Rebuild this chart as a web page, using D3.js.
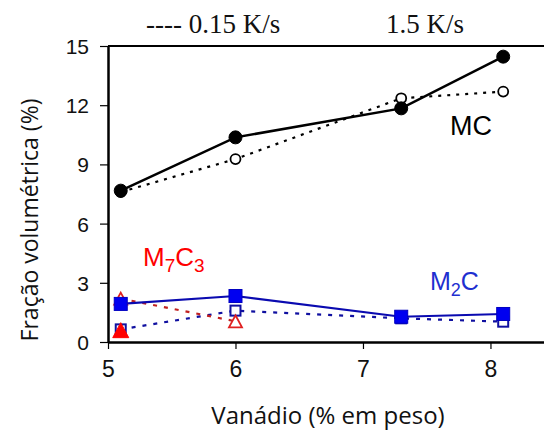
<!DOCTYPE html>
<html>
<head>
<meta charset="utf-8">
<script src="https://cdn.jsdelivr.net/npm/d3@7"></script>
<style>
  html, body { margin: 0; padding: 0; background: #fff; }
  svg { display: block; }
</style>
</head>
<body>
<svg id="chart" width="544" height="432"></svg>
<script>
// ---- data ----
const vanadio = [5.1, 6.0, 7.3, 8.1];
const mcFast = [7.67, 10.37, 11.84, 14.46];      // 1.5 K/s, solid, filled circles
const mcSlow = [7.6, 9.27, 12.35, 12.69];        // 0.15 K/s, dotted, open circles
const m2cFast = [1.93, 2.33, 1.28, 1.42];        // solid, filled squares
const m2cSlow = [0.64, 1.59, 1.2, 1.03];         // dotted, open squares
const m7c3X = [5.1, 6.0];
const m7c3Fast = [0.6];                          // filled triangle
const m7c3Slow = [2.2, 1.05];                    // dotted, open triangles
const xTicks = [5, 6, 7, 8];
const yTicks = [0, 3, 6, 9, 12, 15];

const svg = d3.select("#chart");
const x = d3.scaleLinear().domain([5, 8.42]).range([108, 544]);
const y = d3.scaleLinear().domain([0, 15]).range([342, 46]);

// frame top line
svg.append("line").attr("x1", x(5)).attr("x2", 544).attr("y1", y(15)).attr("y2", y(15))
  .attr("stroke", "#000").attr("stroke-width", 2);

const xAxis = svg.append("g").attr("transform", `translate(0,${y(0)})`)
  .call(d3.axisBottom(x).tickValues(xTicks).tickFormat(d3.format("d")).tickSize(7).tickSizeOuter(0).tickPadding(12));
const yAxis = svg.append("g").attr("transform", `translate(${x(5)},0)`)
  .call(d3.axisLeft(y).tickValues(yTicks).tickSize(8).tickSizeOuter(0).tickPadding(11));
[xAxis, yAxis].forEach(g => {
  g.select(".domain").attr("stroke", "#000").attr("stroke-width", 2.5);
  g.selectAll(".tick line").attr("stroke", "#000").attr("stroke-width", 1.2);
  g.selectAll(".tick text").attr("fill", "#111").style("font-family", "Liberation Sans, Arial, sans-serif");
});
xAxis.selectAll(".tick text").style("font-size", "23px");
yAxis.selectAll(".tick text").style("font-size", "21px").attr("dy", "0.36em");

const line = d3.line().x(d => x(d[0])).y(d => y(d[1]));
const zip = (xs, ys) => ys.map((v, i) => [xs[i], v]);

function drawLine(data, color, width, dash) {
  svg.append("path").datum(data).attr("d", line).attr("fill", "none")
    .attr("stroke", color).attr("stroke-width", width)
    .attr("stroke-dasharray", dash || null);
}

// lines
drawLine(zip(vanadio, mcSlow), "#000", 2.2, "3,6");
drawLine(zip(vanadio, m2cSlow), "#1010a0", 2.2, "4,7");
drawLine(zip(m7c3X, m7c3Slow), "#c02020", 2.2, "4,7");
drawLine(zip(vanadio, m2cFast), "#0a0ab0", 2.2);
drawLine(zip(vanadio, mcFast), "#000", 2.5);

// markers
const circ = (data, r, fill, stroke, sw) => svg.append("g").selectAll("circle").data(data).join("circle")
  .attr("cx", d => x(d[0])).attr("cy", d => y(d[1])).attr("r", r)
  .attr("fill", fill).attr("stroke", stroke).attr("stroke-width", sw);
const sq = (data, s, fill, stroke, sw) => svg.append("g").selectAll("rect").data(data).join("rect")
  .attr("x", d => x(d[0]) - s / 2).attr("y", d => y(d[1]) - s / 2).attr("width", s).attr("height", s)
  .attr("fill", fill).attr("stroke", stroke).attr("stroke-width", sw);
const tri = (data, w, h, fill, stroke, sw) => svg.append("g").selectAll("path").data(data).join("path")
  .attr("d", d => { const cx = x(d[0]), cy = y(d[1]);
    return `M${cx},${cy - h / 2}L${cx + w / 2},${cy + h / 2}L${cx - w / 2},${cy + h / 2}Z`; })
  .attr("fill", fill).attr("stroke", stroke).attr("stroke-width", sw);

circ(zip(vanadio, mcSlow), 5, "#fff", "#000", 1.8);
sq(zip(vanadio, m2cSlow), 10, "#fff", "#1010a0", 2);
tri(zip(m7c3X, m7c3Slow), 13, 12, "#fff", "#e02020", 1.8);
circ(zip(vanadio, mcFast), 6.5, "#000", "#000", 1);
sq(zip(vanadio, m2cFast), 13, "#0000f0", "#0000c0", 1);
tri(zip(m7c3X, m7c3Fast), 16, 15, "#ff0000", "#ff0000", 1);

// series labels
const sans = "Liberation Sans, Arial, sans-serif";
svg.append("text").attr("x", 450).attr("y", 135).attr("font-family", sans).attr("font-size", 27)
  .attr("fill", "#000").text("MC");
const m7 = svg.append("text").attr("x", 143).attr("y", 266).attr("font-family", sans).attr("font-size", 26)
  .attr("fill", "#ff0000");
m7.append("tspan").text("M");
m7.append("tspan").attr("font-size", 19).attr("dy", 6).text("7");
m7.append("tspan").attr("dy", -6).text("C");
m7.append("tspan").attr("font-size", 19).attr("dy", 6).text("3");
const m2 = svg.append("text").attr("x", 430).attr("y", 290).attr("font-family", sans).attr("font-size", 25)
  .attr("fill", "#1f2fd0");
m2.append("tspan").text("M");
m2.append("tspan").attr("font-size", 18).attr("dy", 6).text("2");
m2.append("tspan").attr("dy", -6).text("C");

// legend (top)
const serif = "Liberation Serif, Times New Roman, serif";
svg.append("text").attr("x", 146).attr("y", 33).attr("font-family", serif).attr("font-size", 27)
  .attr("fill", "#111").text("---- 0.15 K/s");
svg.append("text").attr("x", 386).attr("y", 33).attr("font-family", serif).attr("font-size", 27)
  .attr("fill", "#111").text("1.5 K/s");

// axis titles
svg.append("text").attr("x", 328).attr("y", 424).attr("text-anchor", "middle")
  .attr("font-family", "Open Sans, sans-serif").attr("font-size", 24).attr("fill", "#111")
  .text("Vanádio (% em peso)");
svg.append("text").attr("transform", "translate(38,220) rotate(-90)").attr("text-anchor", "middle")
  .attr("font-family", "Open Sans, sans-serif").attr("font-size", 23).attr("fill", "#111")
  .text("Fração volumétrica (%)");
</script>
</body>
</html>
